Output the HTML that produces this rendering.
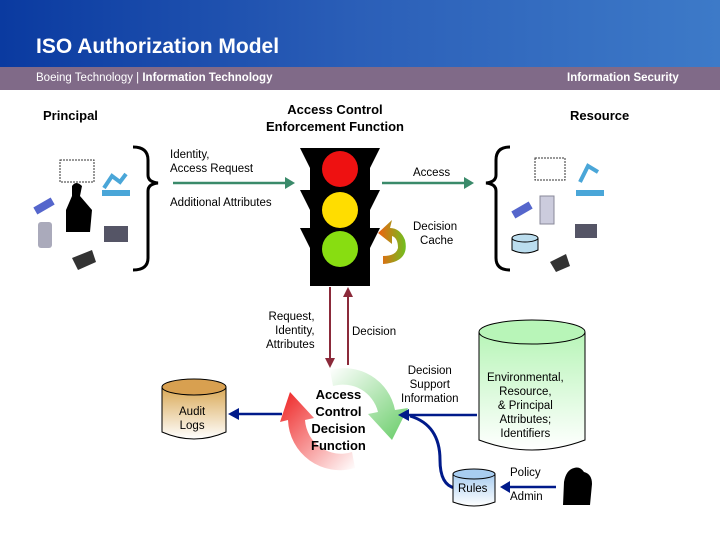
<!DOCTYPE html>
<html><head><style>
body{margin:0;width:720px;height:540px;overflow:hidden;background:#fff;font-family:"Liberation Sans",sans-serif;}
.t{position:absolute;font-size:12px;color:#000;white-space:nowrap;line-height:14px}
</style></head><body>
<div style="position:absolute;left:0;top:0;width:720px;height:67px;background:linear-gradient(90deg,#0a3aa0,#2b5fb8 50%,#3d7ac8)"></div>
<div style="position:absolute;left:0;top:67px;width:720px;height:23px;background:#806a88"></div>
<svg width="720" height="540" style="position:absolute;left:0;top:0">
<defs>
<linearGradient id="rg" x1="0" y1="0" x2="1" y2="1"><stop offset="0" stop-color="#ee2222"/><stop offset="1" stop-color="#fff"/></linearGradient>
<linearGradient id="gg" x1="0" y1="0" x2="1" y2="1"><stop offset="0" stop-color="#fff"/><stop offset="1" stop-color="#66cc66"/></linearGradient>
<linearGradient id="cg" x1="0" y1="0" x2="1" y2="0"><stop offset="0" stop-color="#f06010"/><stop offset="1" stop-color="#70c020"/></linearGradient>
<linearGradient id="ag" x1="0" y1="0" x2="0" y2="1"><stop offset="0" stop-color="#d9a855"/><stop offset="1" stop-color="#fff"/></linearGradient>
<linearGradient id="eg" x1="0" y1="0" x2="0" y2="1"><stop offset="0" stop-color="#b8f5b8"/><stop offset="1" stop-color="#fff"/></linearGradient>
<linearGradient id="bg" x1="0" y1="0" x2="0" y2="1"><stop offset="0" stop-color="#a8cdf0"/><stop offset="1" stop-color="#fff"/></linearGradient>
</defs>
<path d="M133 147 Q148 147 148 160 L148 175 Q148 182 158 183 Q148 184 148 191 L148 258 Q148 270 133 270" fill="none" stroke="#000" stroke-width="3"/>
<path d="M510 147 Q496 147 496 160 L496 175 Q496 182 486 183 Q496 184 496 191 L496 258 Q496 270 510 270" fill="none" stroke="#000" stroke-width="3"/>
<line x1="173" y1="183" x2="288" y2="183" stroke="#3a8a6a" stroke-width="2.5"/><path d="M295 183 L285 177 L285 189Z" fill="#3a8a6a"/>
<line x1="382" y1="183" x2="466" y2="183" stroke="#3a8a6a" stroke-width="2.5"/><path d="M474 183 L464 177 L464 189Z" fill="#3a8a6a"/>
<!-- traffic light -->
<rect x="310" y="148" width="60" height="138" fill="#000"/>
<path d="M300 148 H380 L370 168 H310Z" fill="#000"/>
<path d="M300 190 H380 L370 210 H310Z" fill="#000"/>
<path d="M300 228 H380 L370 248 H310Z" fill="#000"/>
<circle cx="340" cy="169" r="18" fill="#ee1111"/>
<circle cx="340" cy="210" r="18" fill="#ffdd00"/>
<circle cx="340" cy="249" r="18" fill="#88dd11"/>
<path d="M383 264 Q410 262 405 240 Q400 228 390 228 L392 220 L378 233 L392 244 L392 236 Q398 238 398 248 Q396 256 383 256Z" fill="url(#cg)"/>
<!-- icons principal -->
<rect x="60" y="160" width="34" height="22" fill="#fff" stroke="#333" stroke-dasharray="2 1"/>
<path d="M80 232 L66 232 L66 210 L72 196 L72 186 Q76 180 82 186 L80 196 L92 210 L90 232Z" fill="#000"/>
<path d="M104 188 L112 176 L120 182 L126 174" stroke="#4aa6d8" stroke-width="4" fill="none"/><rect x="102" y="190" width="28" height="6" fill="#4aa6d8"/>
<rect x="34" y="202" width="20" height="8" fill="#5566cc" transform="rotate(-30 44 206)"/>
<rect x="38" y="222" width="14" height="26" rx="3" fill="#aab"/>
<rect x="104" y="226" width="24" height="16" fill="#556"/>
<path d="M72 258 L92 250 L96 262 L78 270Z" fill="#333"/>
<!-- icons resource -->
<rect x="535" y="158" width="30" height="22" fill="#fff" stroke="#333" stroke-dasharray="2 1"/>
<path d="M580 182 L588 166 L598 172" stroke="#4aa6d8" stroke-width="4" fill="none"/><rect x="576" y="190" width="28" height="6" fill="#4aa6d8"/>
<rect x="512" y="206" width="20" height="8" fill="#5566cc" transform="rotate(-30 522 210)"/>
<rect x="540" y="196" width="14" height="28" fill="#ccd" stroke="#889"/>
<path d="M512 238 V250 Q525 256 538 250 V238" fill="#bde" stroke="#000"/><ellipse cx="525" cy="238" rx="13" ry="4" fill="#bde" stroke="#000"/>
<rect x="575" y="224" width="22" height="14" fill="#556"/>
<path d="M550 262 L566 254 L570 266 L556 272Z" fill="#333"/>
<!-- vertical maroon -->
<line x1="330" y1="287" x2="330" y2="360" stroke="#8b2a3a" stroke-width="2"/><path d="M330 368 L325 358 L335 358Z" fill="#8b2a3a"/>
<line x1="348" y1="296" x2="348" y2="365" stroke="#8b2a3a" stroke-width="2"/><path d="M348 287 L343 297 L353 297Z" fill="#8b2a3a"/>
<!-- decision circle -->
<path d="M395 410 A52 52 0 0 0 330 370 L333 386 A36 36 0 0 1 378 412 L368 414 L392 440 L408 408Z" fill="url(#gg)"/>
<path d="M288 420 A52 52 0 0 0 355 468 L352 452 A36 36 0 0 1 305 420 L314 418 L290 392 L280 422Z" fill="url(#rg)"/>
<!-- audit -->
<path d="M162 387 V432 Q194 446 226 432 V387" fill="url(#ag)" stroke="#000"/><ellipse cx="194" cy="387" rx="32" ry="8" fill="#d8a050" stroke="#000"/>
<line x1="282" y1="414" x2="238" y2="414" stroke="#001a8a" stroke-width="2.5"/><path d="M228 414 L239 408 L239 420Z" fill="#001a8a"/>
<!-- env -->
<path d="M479 332 V440 Q532 460 585 440 V332" fill="url(#eg)" stroke="#000"/><ellipse cx="532" cy="332" rx="53" ry="12" fill="#b8f5b8" stroke="#000"/>
<line x1="477" y1="415" x2="408" y2="415" stroke="#001a8a" stroke-width="2.5"/><path d="M398 415 L409 409 L409 421Z" fill="#001a8a"/>
<path d="M455 488 Q440 485 440 460 Q440 425 410 416" fill="none" stroke="#001a8a" stroke-width="3"/>
<!-- rules -->
<path d="M453 474 V502 Q474 510 495 502 V474" fill="url(#bg)" stroke="#000"/><ellipse cx="474" cy="474" rx="21" ry="5" fill="#a8cdf0" stroke="#000"/>
<line x1="556" y1="487" x2="508" y2="487" stroke="#001a8a" stroke-width="2.5"/><path d="M500 487 L510 481 L510 493Z" fill="#001a8a"/>
<path d="M563 505 L564 482 Q566 470 574 468 Q580 466 584 472 Q592 474 592 484 L590 505Z" fill="#000"/>
</svg>
<div style="position:absolute;left:36px;top:35px;color:#fff;font-weight:bold;font-size:21px">ISO Authorization Model</div>
<div class="t" style="left:36px;top:71px;color:#fff;font-size:11.5px">Boeing Technology | <b>Information Technology</b></div>
<div class="t" style="left:567px;top:71px;color:#fff;font-size:11.5px;font-weight:bold">Information Security</div>
<div class="t" style="left:43px;top:109px;font-weight:bold;font-size:13px">Principal</div>
<div class="t" style="left:266px;top:101px;font-weight:bold;font-size:13px;text-align:center;line-height:17px">Access Control<br>Enforcement Function</div>
<div class="t" style="left:570px;top:109px;font-weight:bold;font-size:13px">Resource</div>
<div class="t" style="left:170px;top:148px;font-size:11.5px">Identity,<br>Access Request</div>
<div class="t" style="left:170px;top:196px;font-size:11.5px">Additional Attributes</div>
<div class="t" style="left:413px;top:166px;font-size:11.5px">Access</div>
<div class="t" style="left:413px;top:220px;font-size:11.5px;text-align:center">Decision<br>&nbsp;Cache</div>
<div class="t" style="left:266px;top:310px;font-size:11.5px;text-align:right">Request,<br>Identity,<br>Attributes</div>
<div class="t" style="left:352px;top:325px;font-size:11.5px">Decision</div>
<div class="t" style="left:401px;top:364px;font-size:11.5px;text-align:center">Decision<br>Support<br>Information</div>
<div class="t" style="left:487px;top:371px;font-size:11.5px;text-align:center">Environmental,<br>Resource,<br>&amp; Principal<br>Attributes;<br>Identifiers</div>
<div class="t" style="left:179px;top:405px;font-size:11.5px;text-align:center">Audit<br>Logs</div>
<div class="t" style="left:311px;top:386px;font-size:13px;font-weight:bold;text-align:center;line-height:17px">Access<br>Control<br>Decision<br>Function</div>
<div class="t" style="left:458px;top:482px;font-size:11.5px">Rules</div>
<div class="t" style="left:510px;top:466px;font-size:11.5px">Policy</div>
<div class="t" style="left:510px;top:490px;font-size:11.5px">Admin</div>
</body></html>
